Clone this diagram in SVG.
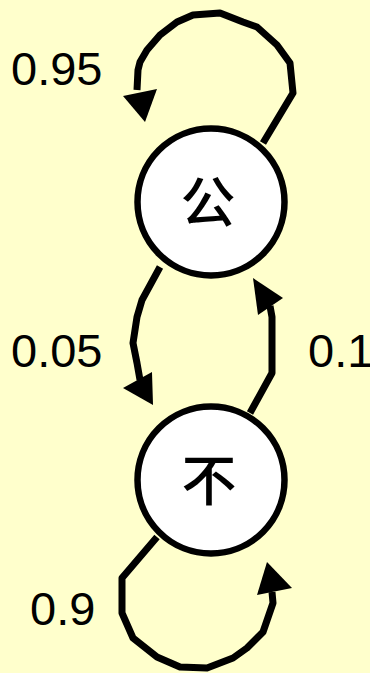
<svg xmlns="http://www.w3.org/2000/svg" width="370" height="673" viewBox="0 0 370 673">
<style>
.node{fill:#ffffff;stroke:#000000;stroke-width:6.5}
.edge{fill:none;stroke:#000000;stroke-width:7;stroke-linejoin:round}
.head{fill:#000000;stroke:none}
.lbl{font-family:"Liberation Sans",Arial,sans-serif;font-size:47px;fill:#000000}
.cjk{font-family:"Noto Sans CJK SC","Noto Sans CJK JP",sans-serif;font-size:55px;font-weight:500;fill:#000000;text-anchor:middle}
</style>
<rect x="0" y="0" width="370" height="673" fill="#ffffcc"/>
<g id="connectors">
<polyline class="edge" points="263,143 293,93 290,63 277,45 257,27 243,22 220,13 193,15 177,22 160,35 147,50 140,62 138,70 137,90"/>
<polygon class="head" points="145,122 123,96 157,89"/>
<polyline class="edge" points="160,267 142,300 137,317 133,343 137,363 140,380"/>
<polygon class="head" points="153,405 123,388 152,372"/>
<polyline class="edge" points="250,413 272,373 272,317 270,306"/>
<polygon class="head" points="253,278 258,315 283,298"/>
<polyline class="edge" points="157,537 122,578 122,613 133,638 157,657 180,667 207,668 233,658 247,648 263,632 273,603 272,592"/>
<polygon class="head" points="267,562 257,595 292,588"/>
</g>
<g id="node-gong">
<circle class="node" cx="211" cy="202" r="73.5"/>
<text class="cjk" x="208" y="222">公</text>
</g>
<g id="node-bu">
<circle class="node" cx="211" cy="480" r="73.5"/>
<text class="cjk" x="209" y="500">不</text>
</g>
<g id="labels">
<text class="lbl" x="11" y="85">0.95</text>
<text class="lbl" x="11" y="367">0.05</text>
<text class="lbl" x="308" y="367">0.1</text>
<text class="lbl" x="30" y="625">0.9</text>
</g>
</svg>
